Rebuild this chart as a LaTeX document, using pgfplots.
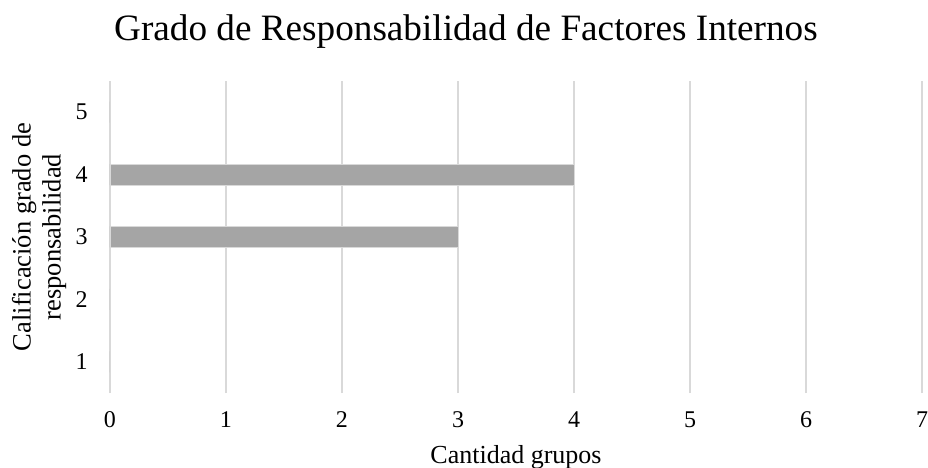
\documentclass[border=0pt]{standalone}
\usepackage{pgfplots}
\pgfplotsset{compat=1.18}
\usepackage{fontspec}
\setmainfont{Liberation Serif}
\definecolor{barfill}{RGB}{165,165,165}
\definecolor{gridc}{RGB}{217,217,217}
\begin{document}
\begin{tikzpicture}
\begin{axis}[
  at={(0,0)}, anchor=south west,
  scale only axis,
  width=812pt, height=312pt,
  xbar, bar width=21pt,
  xmin=0, xmax=7,
  ymin=0.5, ymax=5.5,
  xtick={0,1,2,3,4,5,6,7},
  ytick={1,2,3,4,5},
  xmajorgrids, major grid style={gridc, line width=1.5pt},
  axis line style={draw=none},
  tick style={draw=none},
  /pgf/number format/assume math mode=true,
  xticklabel style={font=\fontsize{24}{28}\selectfont, anchor=base, inner sep=0pt, yshift=-34pt},
  yticklabel style={font=\fontsize{24}{28}\selectfont, anchor=east, inner sep=0pt, xshift=-18pt},
  xlabel={Cantidad grupos},
  xlabel style={font=\fontsize{26}{30}\selectfont, at={(axis description cs:0.5,0)}, anchor=base, inner sep=0pt, yshift=-70pt},
  ylabel={Calificación grado de\\responsabilidad},
  ylabel style={font=\fontsize{26.5}{30}\selectfont, align=center, at={(axis description cs:0,0.5)}, anchor=center, inner sep=0pt, yshift=71pt},
  title={Grado de Responsabilidad de Factores Internos},
  title style={font=\fontsize{37.2}{44}\selectfont, at={(axis description cs:0.4384,1.112)}, anchor=base, inner sep=0pt},
]
\addplot[fill=barfill, draw=gridc, line width=0.75pt] coordinates {(0,1) (0,2) (3,3) (4,4) (0,5)};
\end{axis}
\pgfresetboundingbox
\useasboundingbox (-110pt,-75pt) rectangle (818pt,393pt);
\end{tikzpicture}
\end{document}
